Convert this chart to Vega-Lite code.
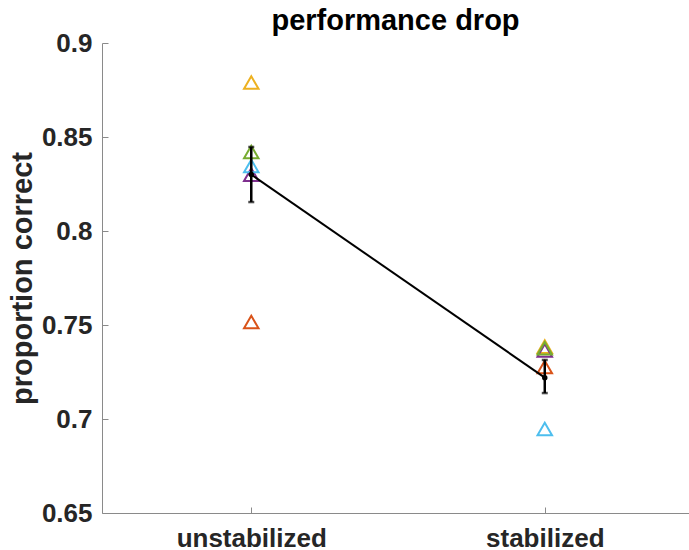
{
  "$schema": "https://vega.github.io/schema/vega-lite/v6.json",
  "width": 587,
  "height": 470,
  "autosize": {"type": "none"},
  "padding": {"left": 102, "top": 43, "right": 0, "bottom": 37},
  "background": "white",
  "title": {
    "text": "performance drop",
    "font": "Liberation Sans",
    "fontSize": 29,
    "fontWeight": "bold",
    "color": "#000000",
    "anchor": "middle",
    "frame": "group",
    "offset": -6
  },
  "config": {
    "view": {"stroke": null},
    "axis": {
      "labelFont": "Liberation Sans",
      "labelFontSize": 26,
      "labelFontWeight": "bold",
      "labelColor": "#262626",
      "titleFont": "Liberation Sans",
      "titleFontSize": 29,
      "titleFontWeight": "bold",
      "titleColor": "#262626",
      "domainColor": "#8a8a8a",
      "tickColor": "#8a8a8a",
      "domainWidth": 1,
      "tickWidth": 1,
      "grid": false
    }
  },
  "datasets": {
    "subjects": [
      {"condition": "unstabilized", "subject": "S1", "pc": 0.7516},
      {"condition": "unstabilized", "subject": "S2", "pc": 0.8790},
      {"condition": "unstabilized", "subject": "S3", "pc": 0.8300},
      {"condition": "unstabilized", "subject": "S4", "pc": 0.8420},
      {"condition": "unstabilized", "subject": "S5", "pc": 0.8346},
      {"condition": "stabilized", "subject": "S1", "pc": 0.7277},
      {"condition": "stabilized", "subject": "S2", "pc": 0.7385},
      {"condition": "stabilized", "subject": "S3", "pc": 0.7365},
      {"condition": "stabilized", "subject": "S4", "pc": 0.7376},
      {"condition": "stabilized", "subject": "S5", "pc": 0.6947}
    ],
    "summary": [
      {"condition": "unstabilized", "mean": 0.8300, "lo": 0.8154, "hi": 0.8447},
      {"condition": "stabilized", "mean": 0.7220, "lo": 0.7138, "hi": 0.7314}
    ]
  },
  "encoding": {
    "x": {
      "field": "condition",
      "type": "nominal",
      "sort": ["unstabilized", "stabilized"],
      "scale": {"type": "point", "paddingOuter": 0.4916, "align": 0.5086},
      "axis": {
        "title": null,
        "labelAngle": 0,
        "tickSize": -6,
        "labelPadding": 18,
        "domain": true
      }
    }
  },
  "layer": [
    {
      "data": {"name": "subjects"},
      "mark": {"type": "point", "shape": "triangle-up", "filled": false, "strokeWidth": 2, "size": 210, "opacity": 1},
      "encoding": {
        "y": {
          "field": "pc",
          "type": "quantitative",
          "scale": {"domain": [0.65, 0.9], "nice": false, "zero": false},
          "axis": {
            "title": "proportion correct",
            "values": [0.65, 0.7, 0.75, 0.8, 0.85, 0.9],
            "format": "~g",
            "tickSize": -6,
            "labelPadding": 16,
            "titlePadding": 4
          }
        },
        "color": {
          "field": "subject",
          "type": "nominal",
          "scale": {
            "domain": ["S1", "S2", "S3", "S4", "S5"],
            "range": ["#D95319", "#EDB120", "#7E2F8E", "#77AC30", "#4DBEEE"]
          },
          "legend": null
        },
        "order": {"field": "subject"}
      }
    },
    {
      "data": {"name": "summary"},
      "mark": {"type": "line", "color": "black", "strokeWidth": 2},
      "encoding": {
        "y": {"field": "mean", "type": "quantitative"}
      }
    },
    {
      "data": {"name": "summary"},
      "mark": {"type": "rule", "color": "black", "strokeWidth": 2.5},
      "encoding": {
        "y": {"field": "lo", "type": "quantitative"},
        "y2": {"field": "hi"}
      }
    },
    {
      "data": {"name": "summary"},
      "mark": {"type": "tick", "color": "black", "thickness": 2.5, "size": 6, "orient": "horizontal"},
      "encoding": {
        "y": {"field": "lo", "type": "quantitative"}
      }
    },
    {
      "data": {"name": "summary"},
      "mark": {"type": "tick", "color": "black", "thickness": 2.5, "size": 6, "orient": "horizontal"},
      "encoding": {
        "y": {"field": "hi", "type": "quantitative"}
      }
    },
    {
      "data": {"name": "summary"},
      "mark": {"type": "point", "filled": true, "color": "black", "size": 30, "opacity": 1},
      "encoding": {
        "y": {"field": "mean", "type": "quantitative"}
      }
    }
  ]
}
